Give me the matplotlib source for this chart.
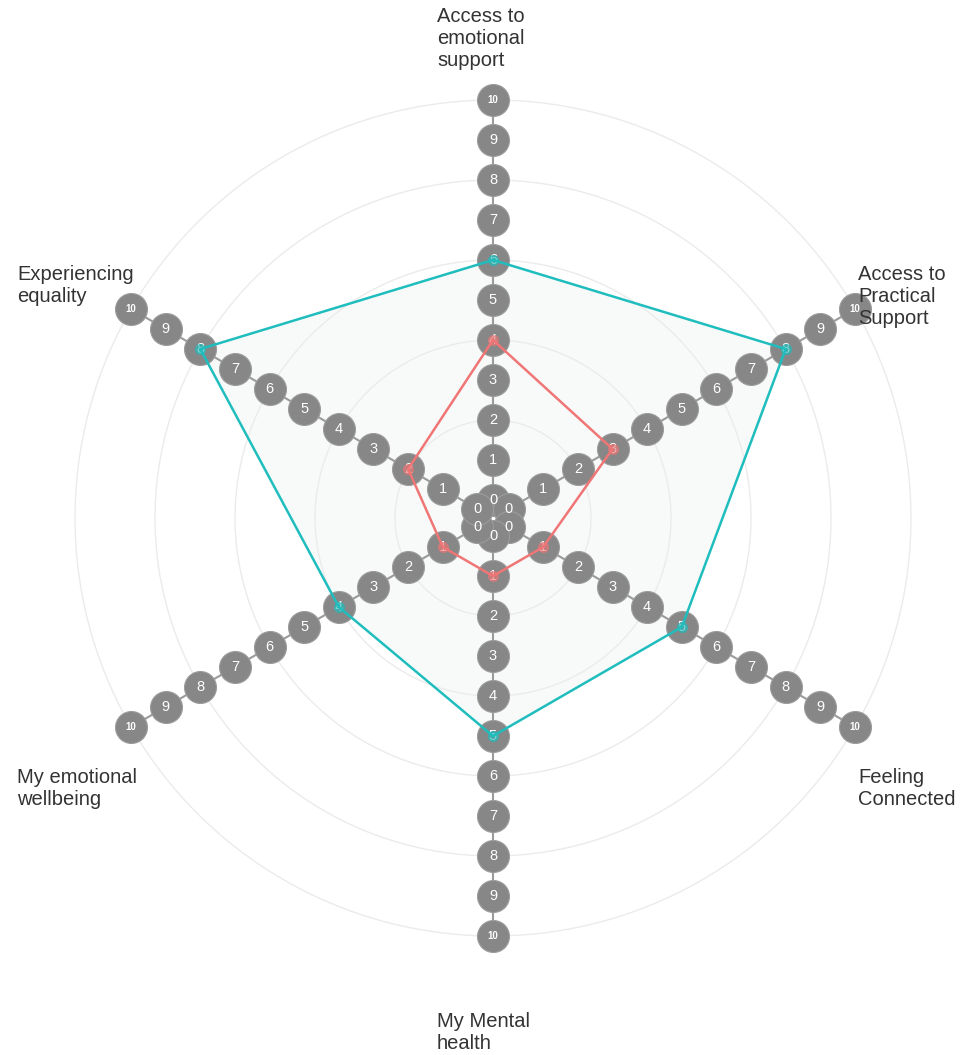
import numpy as np
import matplotlib.pyplot as plt

categories = ["Access to\nemotional\nsupport", "Access to\nPractical\nSupport",
              "Feeling\nConnected", "My Mental\nhealth",
              "My emotional\nwellbeing", "Experiencing\nequality"]
series_teal = [6, 8, 5, 5, 4, 8]
series_red = [4, 3, 1, 1, 1, 2]
tick_values = list(range(0, 11))
grid_values = [2, 4, 6, 8, 10]

TEAL = "#1fbdbd"
RED = "#f07575"
GREY = "#878787"

plt.rcParams['font.family'] = ['Liberation Sans', 'DejaVu Sans']

fig = plt.figure(figsize=(9.63, 10.55), dpi=100)
W, H = 963, 1055
cx, cy, R = 493, 518, 418
ax = fig.add_axes([(cx - R) / W, (H - cy - R) / H, 2 * R / W, 2 * R / H], polar=True)
ax.set_theta_zero_location('N')
ax.set_theta_direction(-1)
ax.set_ylim(0, 10)
ax.set_rorigin(-0.45)
ax.axis('off')

n = len(categories)
angles = np.arange(n) * 2 * np.pi / n

# grid circles
t = np.linspace(0, 2 * np.pi, 400)
for g in grid_values:
    ax.plot(t, np.full_like(t, g), color="#ebebeb", lw=1, zorder=1, clip_on=False)

# filled area of the outer series
closed = np.append(angles, angles[0])
ax.fill(closed, np.append(series_teal, series_teal[0]), color="#f8fafa", zorder=0.5)

# spokes with numbered circles
for a in angles:
    ax.plot([a, a], [0, 10], color="#9a9a9a", lw=1.5, zorder=2, clip_on=False)
    for v in tick_values:
        ax.plot(a, v, 'o', ms=23, color=GREY, mec="#9c9c9c", mew=0.8,
                zorder=3, clip_on=False)
        ax.text(a, v, str(v), color="white", ha='center', va='center',
                fontsize=7 if v == 10 else 10.5, zorder=4,
                fontweight='bold' if v == 10 else 'normal', clip_on=False)

for vals, col in [(series_teal, TEAL), (series_red, RED)]:
    ax.plot(closed, np.append(vals, vals[0]), color=col, lw=1.8, zorder=5, clip_on=False)
    ax.plot(angles, vals, 'o', ms=7, color=col, alpha=0.6, zorder=6, clip_on=False)

# category labels (top-left anchored)
label_pos = [(437, 7), (858, 265), (858, 768), (437, 1012), (17, 768), (17, 265)]
for (x, y), lab in zip(label_pos, categories):
    fig.text(x / W, 1 - y / H, lab, ha='left', va='top', fontsize=14.5,
             color="#333333", linespacing=1.2)

fig.savefig("out.png", dpi=100, facecolor="white")
